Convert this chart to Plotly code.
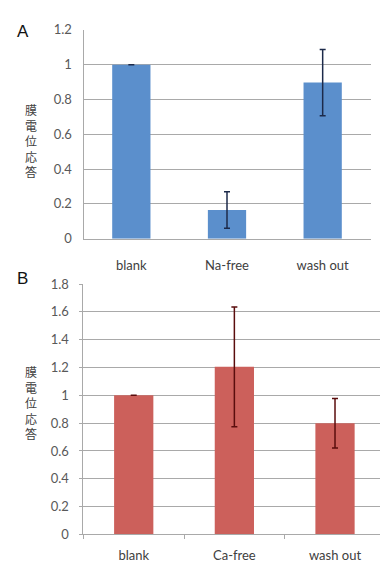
import plotly.graph_objects as go

# Data
cats_a = ["blank", "Na-free", "wash out"]
vals_a = [1.0, 0.165, 0.897]
err_a = [0.0, 0.105, 0.19]

cats_b = ["blank", "Ca-free", "wash out"]
vals_b = [1.0, 1.205, 0.80]
err_b = [0.0, 0.43, 0.178]

yticks_a = [0, 0.2, 0.4, 0.6, 0.8, 1, 1.2]
yticks_b = [0, 0.2, 0.4, 0.6, 0.8, 1, 1.2, 1.4, 1.6, 1.8]

ytitle = "膜電位応答"

W, H = 380, 569
FONT = "Lato, 'Noto Sans CJK JP', sans-serif"
GRID = "#a9a9a9"
TICKC = "#595959"

fig = go.Figure()
fig.add_trace(go.Bar(
    x=cats_a, y=vals_a, width=0.4, marker=dict(color="#5b8fcc", line=dict(width=0)),
    error_y=dict(type="data", array=err_a, color="#1c2a4a", thickness=1.5, width=3),
    xaxis="x", yaxis="y", showlegend=False))
fig.add_trace(go.Bar(
    x=cats_b, y=vals_b, width=0.39, marker=dict(color="#cc605b", line=dict(width=0)),
    error_y=dict(type="data", array=err_b, color="#5a0d0d", thickness=1.5, width=3),
    xaxis="x2", yaxis="y2", showlegend=False))

def py(pix):
    return 1 - pix / H

common_y = dict(showgrid=True, gridcolor=GRID, gridwidth=1, zeroline=False,
                showline=True, linecolor=GRID, linewidth=1,
                tickfont=dict(family=FONT, size=13, color=TICKC),
                ticklabelstandoff=8, fixedrange=True)
common_x = dict(showline=True, linecolor=GRID, linewidth=1, showgrid=False,
                tickfont=dict(family=FONT, size=13, color="#404040"),
                fixedrange=True)

fig.update_layout(
    width=W, height=H,
    margin=dict(l=0, r=0, t=0, b=0),
    paper_bgcolor="white", plot_bgcolor="white",
    xaxis=dict(domain=[83.5 / W, 370.5 / W], anchor="y", range=[-0.5, 2.5],
               ticks="", ticklabelstandoff=15, **common_x),
    yaxis=dict(domain=[py(237.3), py(22.5)], anchor="x", range=[0, 1.2],
               tickvals=yticks_a, ticktext=[f"{v:g}" for v in yticks_a],
               ticks="", **common_y),
    xaxis2=dict(domain=[83.4 / W, 1.0], anchor="y2", range=[-0.5, 2.447],
                ticks="outside", ticklen=4, tickcolor=GRID, tickson="boundaries",
                ticklabelstandoff=9, **common_x),
    yaxis2=dict(domain=[py(541.7), py(284)], anchor="x2", range=[0, 1.8],
                tickvals=yticks_b, ticktext=[f"{v:g}" for v in yticks_b],
                ticks="outside", ticklen=3, tickcolor=GRID, **common_y),
)

annots = []
annots.append(dict(text="A", x=15 / W, y=py(12), xref="paper", yref="paper",
                   xanchor="left", yanchor="top", showarrow=False,
                   font=dict(family="Liberation Sans, Arial", size=17, color="#111")))
annots.append(dict(text="B", x=15 / W, y=py(267), xref="paper", yref="paper",
                   xanchor="left", yanchor="top", showarrow=False,
                   font=dict(family="Liberation Sans, Arial", size=17, color="#111")))
for center in (136, 406):
    annots.append(dict(text="<br>".join(ytitle), x=31 / W, y=py(center),
                       xref="paper", yref="paper", xanchor="center", yanchor="middle",
                       showarrow=False,
                       font=dict(family="Noto Sans CJK JP", size=12, color="#404040")))
fig.update_layout(annotations=annots)

fig.write_html("out.html", config={"displayModeBar": False},
               post_script="document.body.style.margin='0';document.body.style.overflow='hidden';")
